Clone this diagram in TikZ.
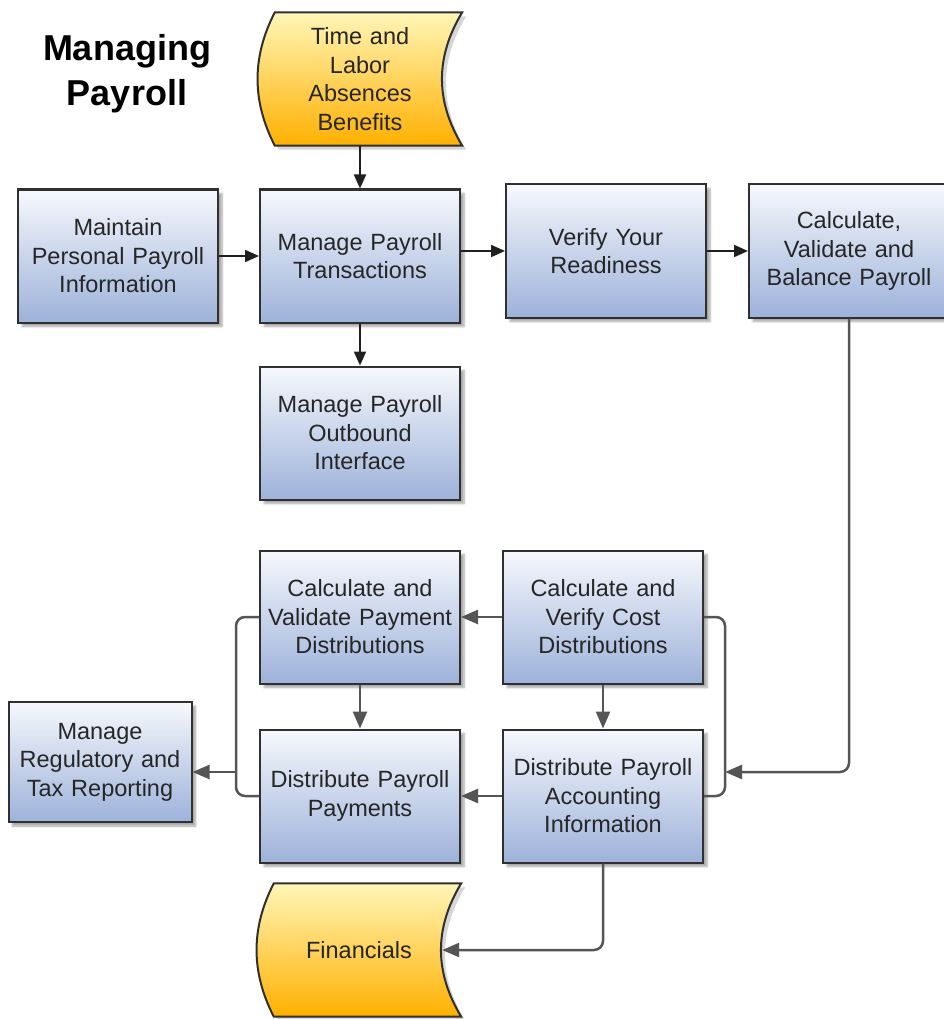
\documentclass[tikz,border=0pt]{standalone}
\usepackage{fontspec}
\setmainfont{Liberation Sans}
\usetikzlibrary{arrows.meta,shadows.blur}
\definecolor{boxtop}{HTML}{F6F8FC}
\definecolor{boxbot}{HTML}{9DB2DA}
\definecolor{tapetop}{HTML}{FFF6B8}
\definecolor{tapebot}{HTML}{FFB000}
\definecolor{edgec}{HTML}{303030}
\definecolor{connc}{HTML}{555555}
\definecolor{txtc}{HTML}{262626}
\begin{document}
\begin{tikzpicture}[x=1pt,y=-1pt,
 procbox/.style={draw=edgec, line width=2pt, top color=boxtop, bottom color=boxbot,
   minimum width=200pt, minimum height=133pt, text width=194pt, inner sep=3pt,
   align=center, font=\fontsize{23.5}{28.5}\selectfont, text=txtc,
   blur shadow={shadow xshift=4pt, shadow yshift=-4pt, shadow blur steps=6, shadow opacity=35}},
 tapebox/.style={minimum width=204pt, minimum height=133pt, inner sep=0pt},
 tapetext/.style={text width=190pt, inner sep=0pt, align=center,
   font=\fontsize{23.5}{28.5}\selectfont, text=txtc},
 tapeshape/.style={draw=edgec, line width=2pt, top color=tapetop, bottom color=tapebot},
 tapeshadow/.style={fill=black!16},
 darrow/.style={draw=black!88, line width=2pt, -{Triangle[length=14pt,width=12pt]}},
 garrow/.style={draw=connc, line width=2.5pt, rounded corners=9pt, -{Triangle[length=17pt,width=14pt]}},
 bracketline/.style={draw=connc, line width=2.5pt, rounded corners=9pt}]
\useasboundingbox (0,0) rectangle (943,1019);

\node[font=\bfseries\fontsize{36}{45}\selectfont, align=center, text=black] (title) at (127,74) {Managing\\Payroll};

% input / output tapes
\node[tapebox] (tl) at (360,79) {};
\node[tapebox] (fin) at (359,950) {};
\path[tapeshadow] ([shift={(21pt,-4pt)}]tl.north west) -- ([shift={(4pt,-4pt)}]tl.north east)
  .. controls ([shift={(-23pt,18pt)}]tl.east) and ([shift={(-23pt,-26pt)}]tl.east) .. ([shift={(4pt,-4pt)}]tl.south east)
  -- ([shift={(21pt,-4pt)}]tl.south west)
  .. controls ([shift={(-2pt,-26pt)}]tl.west) and ([shift={(-2pt,18pt)}]tl.west) .. ([shift={(21pt,-4pt)}]tl.north west) -- cycle;
\path[tapeshape] ([xshift=17pt]tl.north west) -- (tl.north east)
  .. controls ([shift={(-27pt,22pt)}]tl.east) and ([shift={(-27pt,-22pt)}]tl.east) .. (tl.south east)
  -- ([xshift=17pt]tl.south west)
  .. controls ([shift={(-6pt,-22pt)}]tl.west) and ([shift={(-6pt,22pt)}]tl.west) .. ([xshift=17pt]tl.north west) -- cycle;
\path[tapeshadow] ([shift={(21pt,-4pt)}]fin.north west) -- ([shift={(4pt,-4pt)}]fin.north east)
  .. controls ([shift={(-23pt,18pt)}]fin.east) and ([shift={(-23pt,-26pt)}]fin.east) .. ([shift={(4pt,-4pt)}]fin.south east)
  -- ([shift={(21pt,-4pt)}]fin.south west)
  .. controls ([shift={(-2pt,-26pt)}]fin.west) and ([shift={(-2pt,18pt)}]fin.west) .. ([shift={(21pt,-4pt)}]fin.north west) -- cycle;
\path[tapeshape] ([xshift=17pt]fin.north west) -- (fin.north east)
  .. controls ([shift={(-27pt,22pt)}]fin.east) and ([shift={(-27pt,-22pt)}]fin.east) .. (fin.south east)
  -- ([xshift=17pt]fin.south west)
  .. controls ([shift={(-6pt,-22pt)}]fin.west) and ([shift={(-6pt,22pt)}]fin.west) .. ([xshift=17pt]fin.north west) -- cycle;
\node[tapetext] (tltext) at (tl.center) {Time and\\Labor\\Absences\\Benefits};
\node[tapetext] (fintext) at (fin.center) {Financials};

\node[procbox] (maint) at (118,256) {Maintain\\Personal Payroll\\Information};
\node[procbox] (mpt) at (360,256) {Manage Payroll\\Transactions};
\node[procbox] (ver) at (606,251) {Verify Your\\Readiness};
\node[procbox] (calc) at (849,251) {Calculate,\\Validate and\\Balance Payroll};
\node[procbox] (outb) at (360,433) {Manage Payroll\\Outbound\\Interface};
\node[procbox] (cvp) at (360,617) {Calculate and\\Validate Payment\\Distributions};
\node[procbox] (cvc) at (603,617) {Calculate and\\Verify Cost\\Distributions};
\node[procbox] (dpp) at (360,796) {Distribute Payroll\\Payments};
\node[procbox] (dpa) at (603,796) {Distribute Payroll\\Accounting\\Information};
\node[procbox, minimum width=181pt, minimum height=120pt, text width=177pt] (reg) at (100,762) {Manage\\Regulatory and\\Tax Reporting};

\coordinate (rb) at (725,772);
\coordinate (lb) at (236,772);
\coordinate (finin) at ([xshift=-19pt]fin.east);

\draw[darrow] (tl.south) -- (mpt.north);
\draw[darrow] (maint.east) -- (mpt.west);
\draw[darrow] (mpt.east |- ver.west) -- (ver.west);
\draw[darrow] (ver.east) -- (calc.west);
\draw[darrow] (mpt.south) -- (outb.north);

\draw[bracketline] (cvc.east) -- (cvc.east -| rb) -- (dpa.east -| rb) -- (dpa.east);
\draw[bracketline] (cvp.west) -- (cvp.west -| lb) -- (dpp.west -| lb) -- (dpp.west);
\draw[garrow] (calc.south) -- (calc.south |- rb) -- (rb);
\draw[garrow] (lb) -- (lb -| reg.east);
\draw[garrow] (cvc.west) -- (cvp.east);
\draw[garrow] (cvp.south) -- (dpp.north);
\draw[garrow] (cvc.south) -- (dpa.north);
\draw[garrow] (dpa.west) -- (dpp.east);
\draw[garrow] (dpa.south) -- (dpa.south |- finin) -- (finin);
\end{tikzpicture}
\end{document}
